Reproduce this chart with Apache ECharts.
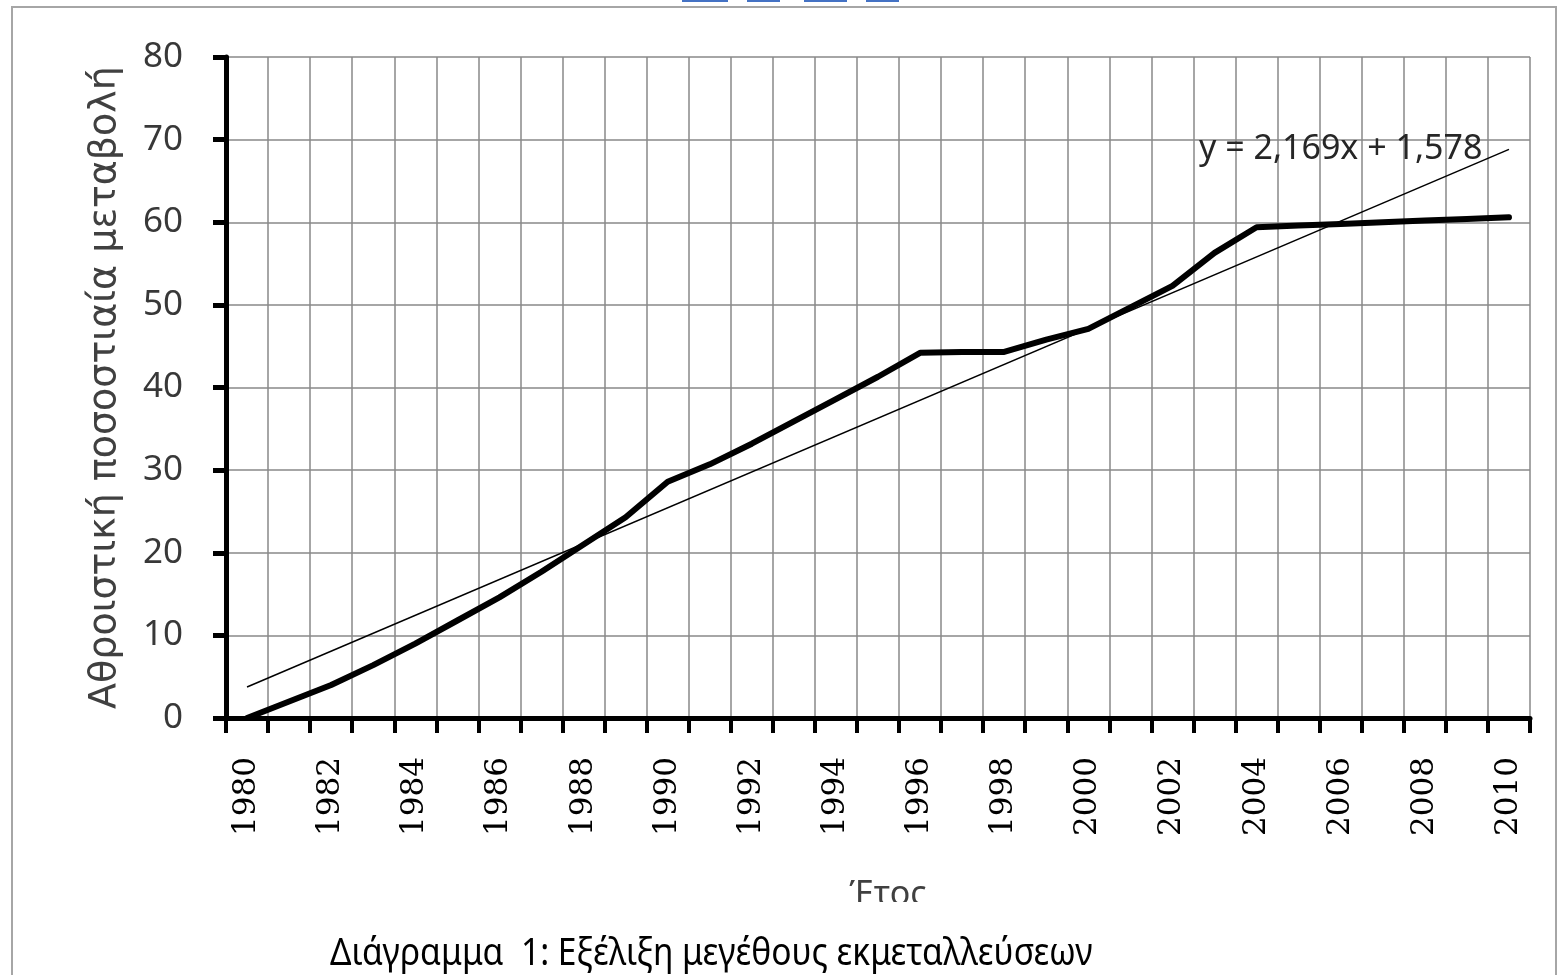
<!DOCTYPE html>
<html>
<head>
<meta charset="utf-8">
<script src="https://cdn.jsdelivr.net/npm/echarts@6/dist/echarts.min.js"></script>
<style>
  html, body { margin: 0; padding: 0; background: #ffffff; }
  #chart { width: 1566px; height: 975px; }
</style>
</head>
<body>
<div id="chart"></div>
<script>
// years on the category axis
var years = ['1980','1981','1982','1983','1984','1985','1986','1987','1988','1989',
  '1990','1991','1992','1993','1994','1995','1996','1997','1998','1999',
  '2000','2001','2002','2003','2004','2005','2006','2007','2008','2009','2010']

// cumulative percent change
var values = [0, 2.0, 4.0, 6.4, 9.0, 11.8, 14.6, 17.7, 21.0, 24.3,
  28.6, 30.7, 33.2, 35.9, 38.6, 41.3, 44.2, 44.3, 44.3, 45.8,
  47.1, 49.7, 52.3, 56.3, 59.4, 59.6, 59.8, 60.0, 60.2, 60.4, 60.6]

// linear trend y = 2,169x + 1,578, its two ends (x = 1 and x = 31)
var trendYears = ['1980', '2010']
var trendValues = [3.75, 68.82]
var trendText = 'y = 2,169x + 1,578'

var yMin = 0
var yMax = 80
var yStep = 10

var yName = 'Αθροιστική ποσοστιαία μεταβολή'
var xName = 'Έτος'
var caption = 'Διάγραμμα  1: Εξέλιξη μεγέθους εκμεταλλεύσεων'

var myChart = echarts.init(document.getElementById('chart'), null, { renderer: 'canvas' })

var option = {
  backgroundColor: '#ffffff',
  animation: false,
  grid: {
    left: 226,
    right: 36,
    top: 57,
    bottom: 257,
    containLabel: false
  },
  xAxis: {
    type: 'category',
    data: years,
    boundaryGap: true,
    name: xName,
    nameLocation: 'middle',
    nameGap: 160,
    nameTextStyle: {
      fontFamily: 'Noto Sans',
      fontSize: 34,
      color: '#404040',
      padding: [0, 0, 0, 20]
    },
    axisLine: {
      show: true,
      onZero: false,
      lineStyle: { color: '#000000', width: 5 }
    },
    axisTick: {
      show: true,
      interval: 0,
      length: 15,
      lineStyle: { color: '#000000', width: 4 }
    },
    axisLabel: {
      interval: 1,
      rotate: 90,
      margin: 39,
      fontFamily: 'DejaVu Serif',
      fontSize: 31,
      color: '#000000'
    },
    splitLine: {
      show: true,
      interval: 0,
      lineStyle: { color: '#888888', width: 1.5 }
    }
  },
  yAxis: {
    type: 'value',
    min: yMin,
    max: yMax,
    interval: yStep,
    name: yName,
    nameLocation: 'middle',
    nameGap: 102,
    nameTextStyle: {
      fontFamily: 'DejaVu Sans',
      fontSize: 38,
      color: '#404040'
    },
    axisLine: {
      show: true,
      lineStyle: { color: '#000000', width: 5 }
    },
    axisTick: {
      show: true,
      length: 13,
      lineStyle: { color: '#000000', width: 5 }
    },
    axisLabel: {
      margin: 43,
      fontFamily: 'Noto Sans',
      fontSize: 35,
      color: '#383838'
    },
    splitLine: {
      show: true,
      lineStyle: { color: '#888888', width: 1.5 }
    }
  },
  series: [
    {
      name: 'trend',
      type: 'line',
      data: trendYears.map(function (y, i) { return [y, trendValues[i]] }),
      symbol: 'none',
      lineStyle: { color: '#000000', width: 1.5 },
      z: 3
    },
    {
      name: 'values',
      type: 'line',
      data: values,
      symbol: 'none',
      lineStyle: { color: '#000000', width: 6, join: 'round', cap: 'round' },
      z: 4
    }
  ],
  graphic: [
    // outer frame of the embedded chart
    {
      type: 'rect',
      shape: { x: 12, y: 7, width: 1544, height: 1000 },
      style: { fill: 'none', stroke: '#a6a6a6', lineWidth: 2 },
      z: 0
    },
    // cut-off link underlines at the top of the page
    { type: 'rect', shape: { x: 682, y: 0, width: 46, height: 2 }, style: { fill: '#4472c4' } },
    { type: 'rect', shape: { x: 747, y: 0, width: 33, height: 2 }, style: { fill: '#4472c4' } },
    { type: 'rect', shape: { x: 804, y: 0, width: 43, height: 2 }, style: { fill: '#4472c4' } },
    { type: 'rect', shape: { x: 866, y: 0, width: 33, height: 2 }, style: { fill: '#4472c4' } },
    // trendline equation
    {
      type: 'text',
      left: 1199,
      top: 132,
      style: {
        text: trendText,
        fontFamily: 'Noto Sans',
        fontSize: 34,
        fill: '#262626'
      },
      z: 10
    },
    // the axis title is clipped by the chart frame bottom
    {
      type: 'rect',
      shape: { x: 800, y: 902, width: 200, height: 30 },
      style: { fill: '#ffffff' },
      z: 20
    },
    // caption under the chart
    {
      type: 'text',
      x: 330,
      y: 934,
      scaleX: 0.86,
      style: {
        text: caption,
        fontFamily: 'Noto Sans',
        fontSize: 39,
        fill: '#000000',
        verticalAlign: 'top'
      },
      z: 30
    }
  ]
}

myChart.setOption(option)
</script>
</body>
</html>
